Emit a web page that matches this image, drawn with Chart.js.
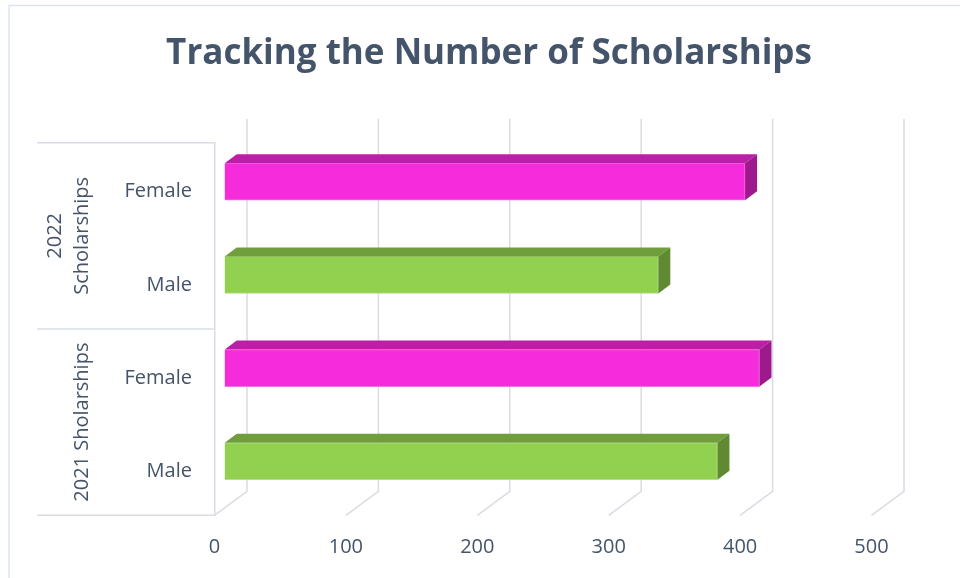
<!DOCTYPE html>
<html>
<head>
<meta charset="utf-8">
<script src="https://cdn.jsdelivr.net/npm/chart.js@4.4.1/dist/chart.umd.min.js"></script>
<style>
html,body{margin:0;padding:0;background:#fff;}
#wrap{width:960px;height:578px;position:relative;}
</style>
</head>
<body>
<div id="wrap"><canvas id="c"></canvas></div>
<script>
// ---- data ----
const titleText = 'Tracking the Number of Scholarships';
const categories = ['Female', 'Male', 'Female', 'Male'];
const groupLabels = [['2022', 'Scholarships'], ['2021 Sholarships']];
const groupSizes = [2, 2];
const values = [396, 330, 407, 375];
const xTicks = [0, 100, 200, 300, 400, 500];

// ---- styles ----
const textColor = '#44546A';
const lineColor = '#D9DCE4';
const fontFamily = '"Open Sans", Lato, sans-serif';
const palettes = {
  Female: { front: '#F52BDC', border: '#F870E6', top: '#BC1EA7', side: '#9E198C' },
  Male:   { front: '#92D050', border: '#B2DF88', top: '#709E3C', side: '#5F8A31' }
};
const depth = { barX: 10.2, barY: -7.5, barDX: 12, barDY: -9, wallX: 32.5, wallY: -24 };

const threeD = {
  id: 'threeD',
  beforeDraw(chart) {
    const ctx = chart.ctx;
    ctx.save();
    ctx.fillStyle = '#fff';
    ctx.fillRect(0, 0, chart.width, chart.height);
    ctx.strokeStyle = '#DCE5EF';
    ctx.lineWidth = 1.5;
    ctx.strokeRect(9, 5.5, chart.width + 40, chart.height + 40);
    ctx.restore();
  },
  beforeDatasetsDraw(chart) {
    const { ctx, chartArea: a, scales: { x, y } } = chart;
    ctx.save();
    ctx.strokeStyle = lineColor;
    ctx.lineWidth = 1.5;
    // back wall gridlines + floor diagonals
    x.ticks.forEach(t => {
      const px = x.getPixelForValue(t.value);
      ctx.beginPath();
      ctx.moveTo(px, a.bottom);
      ctx.lineTo(px + depth.wallX, a.bottom + depth.wallY);
      ctx.lineTo(px + depth.wallX, a.top + depth.wallY);
      ctx.stroke();
    });
    // group separators
    const seps = [a.top];
    let idx = 0;
    groupSizes.forEach((n, gi) => {
      idx += n;
      if (gi < groupSizes.length - 1) {
        seps.push((y.getPixelForValue(idx - 1) + y.getPixelForValue(idx)) / 2);
      }
    });
    seps.push(a.bottom);
    seps.forEach(py => {
      ctx.beginPath();
      ctx.moveTo(37, py);
      ctx.lineTo(a.left, py);
      ctx.stroke();
    });
    // group labels (rotated)
    ctx.fillStyle = textColor;
    ctx.font = '20px ' + fontFamily;
    ctx.textAlign = 'center';
    ctx.textBaseline = 'middle';
    let start = 0;
    groupSizes.forEach((n, gi) => {
      const cy = (y.getPixelForValue(start) + y.getPixelForValue(start + n - 1)) / 2;
      start += n;
      const lines = groupLabels[gi];
      const lastX = 82, lineGap = 27;
      lines.forEach((ln, li) => {
        const lx = lastX - (lines.length - 1 - li) * lineGap;
        ctx.save();
        ctx.translate(lx, cy);
        ctx.rotate(-Math.PI / 2);
        ctx.fillText(ln, 0, 0);
        ctx.restore();
      });
    });
    ctx.restore();
    ctx.save();
    ctx.translate(depth.barX, depth.barY);
  },
  afterDatasetsDraw(chart) {
    const ctx = chart.ctx;
    const meta = chart.getDatasetMeta(0);
    meta.data.forEach((bar, i) => {
      const p = bar.getProps(['x', 'y', 'base', 'height'], true);
      const top = p.y - p.height / 2, bot = p.y + p.height / 2;
      const c = palettes[categories[i]];
      const dx = depth.barDX, dy = depth.barDY;
      ctx.fillStyle = c.top;
      ctx.beginPath();
      ctx.moveTo(p.base, top);
      ctx.lineTo(p.x, top);
      ctx.lineTo(p.x + dx, top + dy);
      ctx.lineTo(p.base + dx, top + dy);
      ctx.closePath();
      ctx.fill();
      ctx.fillStyle = c.side;
      ctx.beginPath();
      ctx.moveTo(p.x, top);
      ctx.lineTo(p.x + dx, top + dy);
      ctx.lineTo(p.x + dx, bot + dy);
      ctx.lineTo(p.x, bot);
      ctx.closePath();
      ctx.fill();
    });
    ctx.restore();
  }
};

new Chart(document.getElementById('c'), {
  type: 'bar',
  data: {
    labels: categories,
    datasets: [{
      label: 'Scholarships',
      data: values,
      backgroundColor: categories.map(c => palettes[c].front),
      borderColor: categories.map(c => palettes[c].border),
      borderWidth: 1,
      barThickness: 37,
      clip: false
    }]
  },
  options: {
    indexAxis: 'y',
    responsive: true,
    maintainAspectRatio: false,
    animation: false,
    layout: { padding: { left: 106.5, right: 88.5, top: 0, bottom: 0 } },
    plugins: {
      legend: { display: false },
      tooltip: { enabled: false },
      title: {
        display: true,
        text: titleText,
        color: textColor,
        font: { family: fontFamily, size: 35, weight: 'bold', lineHeight: 1.2 },
        padding: { top: 33, bottom: 67.7 }
      }
    },
    scales: {
      x: {
        type: 'linear',
        min: 0,
        max: 500,
        afterBuildTicks: s => { s.ticks = xTicks.map(v => ({ value: v })); },
        afterFit: s => { s.height = 62.7; },
        grid: { display: false, drawTicks: false },
        border: { display: false },
        ticks: { color: textColor, font: { family: fontFamily, size: 20 }, padding: 19.5 }
      },
      y: {
        afterFit: s => { s.width = 108; },
        grid: { display: false, drawTicks: false },
        border: { display: true, color: lineColor, width: 1.5 },
        ticks: { color: textColor, font: { family: fontFamily, size: 20 }, padding: 22.5, labelOffset: 2.5 }
      }
    }
  },
  plugins: [threeD]
});
</script>
</body>
</html>
